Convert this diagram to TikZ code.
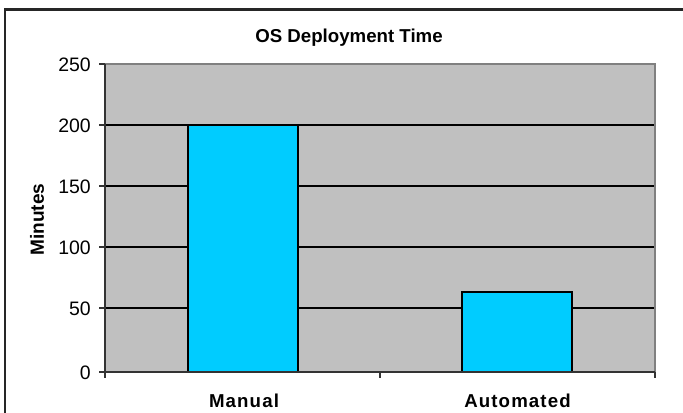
\documentclass[tikz,border=0pt]{standalone}
\usepackage{fontspec}
\setmainfont{Liberation Sans}
\newfontfamily\catfont[LetterSpace=6]{Liberation Sans}
\definecolor{plotgray}{HTML}{C0C0C0}
\definecolor{barcyan}{HTML}{00CCFF}
\definecolor{edgegray}{HTML}{808080}
\begin{document}
\begin{tikzpicture}[x=0.75pt,y=-0.75pt,
  ticklabel/.style={anchor=east,inner sep=0pt,font=\fontsize{14.6}{16}\selectfont},
  catlabel/.style={anchor=base,inner sep=0pt,font=\catfont\bfseries\fontsize{14}{16}\selectfont},
  bar/.style={fill=barcyan,draw=black,line width=1pt},
  grid line/.style={draw=black,line width=0.8pt},
  tickmark/.style={draw=black!80,line width=1pt}]
\useasboundingbox (0,0) rectangle (683,413);
% chart frame (runs past the right and bottom edges)
\draw[line width=1.6pt,draw=black!85] (5,420) -- (5,9.5) -- (690,9.5);
% plot area
\fill[plotgray] (105,64) rectangle (655,372);
\foreach \v/\y in {50/308,100/247,150/186,200/125}
  \draw[grid line] (105,\y) -- (655,\y);
\draw[edgegray,line width=1.2pt] (105,64) -- (655,64) -- (655,372);
% bars
\draw[bar] (188,372) rectangle (298,125);
\draw[bar] (462,372) rectangle (572,292);
% axes
\draw[black!80,line width=1.2pt] (105,64) -- (105,372) -- (655,372);
\foreach \y in {64,125,186,247,308,372}
  \draw[tickmark] (99,\y) -- (105,\y);
\foreach \x in {105,380,655}
  \draw[tickmark] (\x,372) -- (\x,378);
% tick labels
\node[ticklabel] (t250) at (91,65) {250};
\node[ticklabel] (t200) at (91,126) {200};
\node[ticklabel] (t150) at (91,187) {150};
\node[ticklabel] (t100) at (91,248) {100};
\node[ticklabel] (t50)  at (91,309) {50};
\node[ticklabel] (t0)   at (91,373) {0};
% titles
\node[anchor=base,inner sep=0pt,font=\bfseries\fontsize{14}{16}\selectfont] (title) at (349,42.7) {OS Deployment Time};
\node[rotate=90,inner sep=0pt,font=\bfseries\fontsize{14.3}{16}\selectfont] (ylabel) at (37,219.5) {Minutes};
\node[catlabel] (manual) at (244,408) {Manual};
\node[catlabel] (auto) at (517.5,408) {Automated};
\end{tikzpicture}
\end{document}
